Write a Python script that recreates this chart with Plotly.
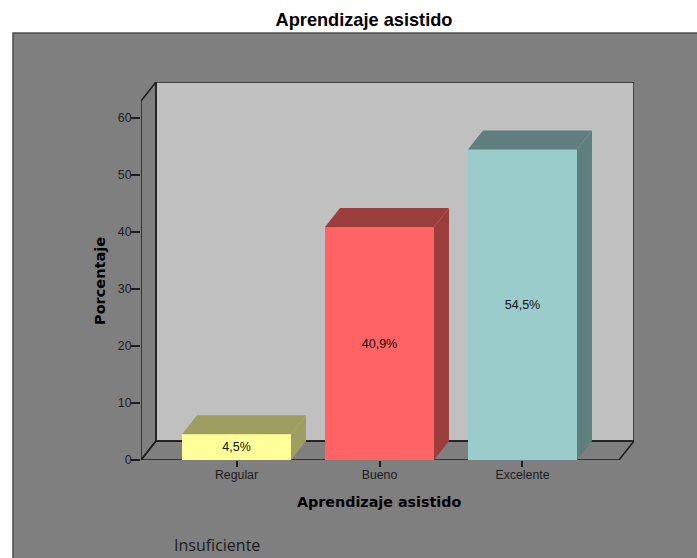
"""Aprendizaje asistido: faux-3D bar chart built from bars and filled polygons."""
import plotly.graph_objects as go

categories = ["Regular", "Bueno", "Excelente"]
percentages = [4.5, 40.9, 54.5]
bar_labels = ["4,5%", "40,9%", "54,5%"]
front_colors = ["#ffff99", "#ff6363", "#9acccc"]
top_colors = ["#9e9e60", "#9c3d3d", "#5f7f7f"]
side_colors = ["#9e9e60", "#9c3d3d", "#5f7f7f"]
y_ticks = [0, 10, 20, 30, 40, 50, 60]

W, H = 697, 558
BAR_W = 109 / 143
DX = 15 / 143  # depth of the fake 3D box, in axis units
DY = 19 / 5.7
X0, X1 = -0.668, 2.675  # front plane
Y1 = 63.0
DARK = "#1c1c1c"
PANEL = "#7f7f7f"
xs = list(range(len(categories)))

fig = go.Figure()

fig.add_trace(go.Bar(
    x=xs, y=percentages, width=BAR_W,
    marker=dict(color=front_colors, line=dict(width=0)),
    text=bar_labels, textposition="inside", insidetextanchor="middle",
    textangle=0, constraintext="none",
    textfont=dict(family="Liberation Sans", size=12.5, color="#111111"),
    showlegend=False,
))

# top and side faces of each bar
for x, v, top, side in zip(xs, percentages, top_colors, side_colors):
    l, r = x - BAR_W / 2, x + BAR_W / 2
    fig.add_trace(go.Scatter(
        x=[l, r, r + DX, l + DX, l], y=[v, v, v + DY, v + DY, v],
        mode="lines", fill="toself", fillcolor=top, line=dict(width=0),
        showlegend=False, hoverinfo="skip",
    ))
    fig.add_trace(go.Scatter(
        x=[r, r + DX, r + DX, r, r], y=[0, DY, v + DY, v, 0],
        mode="lines", fill="toself", fillcolor=side, line=dict(width=0),
        showlegend=False, hoverinfo="skip",
    ))


def poly(points):
    return "M " + " L ".join(f"{a} {b}" for a, b in points) + " Z"


line = dict(color=DARK, width=1.5)
shapes = [
    # grey panel behind everything
    dict(type="rect", xref="paper", yref="paper", x0=13 / W, x1=1.01, y0=-0.01, y1=525 / H,
         fillcolor=PANEL, line=dict(color="#4d4d4d", width=1.5), layer="below"),
    # back wall
    dict(type="rect", x0=X0 + DX, x1=X1 + DX, y0=DY, y1=Y1 + DY,
         fillcolor="#c0c0c0", line=line, layer="below"),
    # left wall
    dict(type="path", path=poly([(X0, 0), (X0 + DX, DY), (X0 + DX, Y1 + DY), (X0, Y1)]),
         line=line, layer="below"),
    # floor
    dict(type="path", path=poly([(X0, 0), (X1, 0), (X1 + DX, DY), (X0 + DX, DY)]),
         line=line, layer="below"),
]


def label(text, px, py, size, family="DejaVu Sans", color="#000000", angle=0):
    return dict(text=text, xref="paper", yref="paper", x=px / W, y=1 - py / H,
                xanchor="center", yanchor="middle", showarrow=False, textangle=angle,
                font=dict(family=family, size=size, color=color))


fig.update_layout(
    width=W, height=H, autosize=False,
    margin=dict(l=0, r=0, t=0, b=0),
    paper_bgcolor="white", plot_bgcolor="rgba(0,0,0,0)",
    bargap=0, shapes=shapes, showlegend=False,
    title=dict(text="<b>Aprendizaje asistido</b>", x=364 / W, xanchor="center", y=1 - 20 / H, yanchor="middle",
               font=dict(family="Liberation Sans", size=18.2, color="#000000")),
    annotations=[
        label("<b>Aprendizaje asistido</b>", 379, 502, 14.3),
        label("<b>Porcentaje</b>", 100, 281, 14.5, angle=-90),
        label("Insuficiente", 217, 545, 16, family="Open Sans", color="#1a1a1a"),
    ],
)
fig.update_xaxes(
    automargin=False,
    domain=[141 / W, 634 / W], range=[X0, X1 + DX],
    tickmode="array", tickvals=xs, ticktext=categories,
    ticks="outside", ticklen=6, tickwidth=1.5, tickcolor=DARK,
    ticklabelstandoff=-3,
    tickfont=dict(family="Liberation Sans", size=12.3, color=DARK),
    showgrid=False, zeroline=False, showline=False,
)
fig.update_yaxes(
    automargin=False,
    domain=[(H - 460) / H, (H - 82) / H], range=[0, Y1 + DY],
    tickmode="array", tickvals=y_ticks,
    ticks="outside", ticklen=9, tickwidth=1.5, tickcolor=DARK,
    ticklabelstandoff=-3,
    tickfont=dict(family="Liberation Sans", size=12.3, color=DARK),
    showgrid=False, zeroline=False, showline=False,
)

# the default page margin would push the figure 8px off the corner
fig.write_html("out.html", config={"displayModeBar": False},
               post_script="document.body.style.margin='0';")
